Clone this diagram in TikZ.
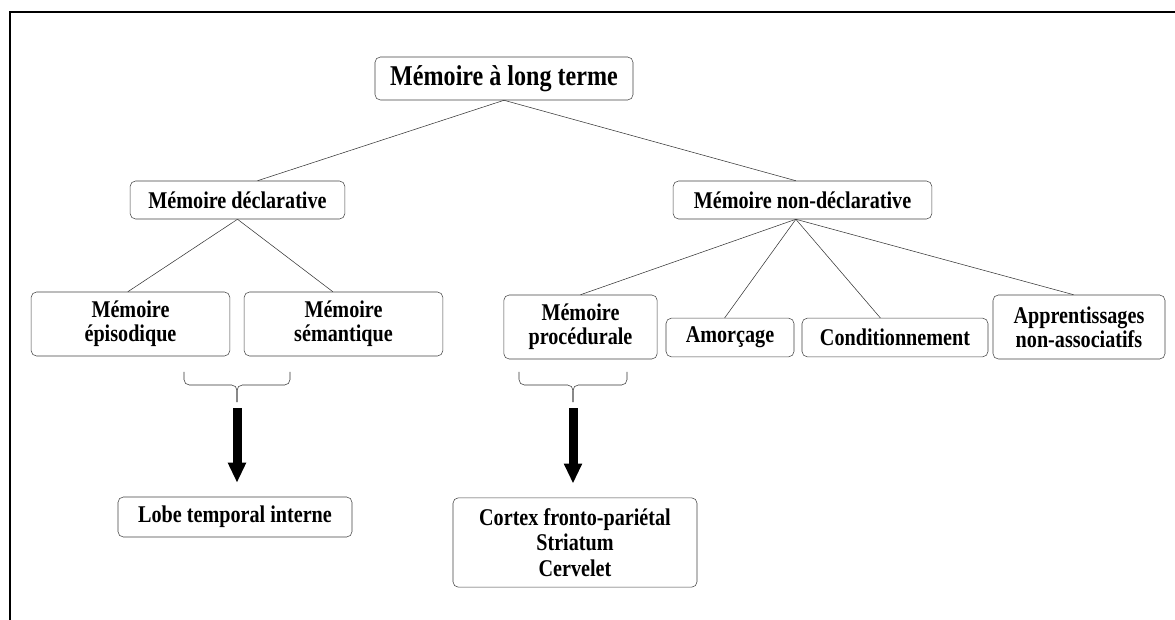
\documentclass[tikz,border=0pt]{standalone}
\usepackage{fontspec}
\setmainfont[FakeStretch=0.84]{Liberation Serif}
\usepackage{tikz}
\usetikzlibrary{arrows.meta}
\tikzset{mem_tree/.style={x=0.75pt,y=-0.75pt,font=\bfseries\fontsize{18}{18}\selectfont}}
\tikzset{mem_box/.style={draw=black!75, rounded corners=4pt, thin, align=center, inner sep=1pt}}
\tikzset{mem_link/.style={draw=black!80, thin}}
\tikzset{mem_brace/.style={draw=black!80, thin, rounded corners=4pt}}
\tikzset{mem_arrow/.style={-{Triangle[length=15pt,width=12.75pt]}, line width=6.75pt, shorten >=10.5pt}}

\begin{document}
\begin{tikzpicture}[mem_tree]
    \useasboundingbox (0,0) rectangle (1175,620);
    % frame (top and left only)
    \draw[line width=1.8pt] (10,620) -- (10,12) -- (1175,12);

    \node[mem_box, minimum width=193.5pt, minimum height=32.25pt, font=\bfseries\fontsize{21.5}{18}\selectfont] (lt) at (504,78.5) {Mémoire à long terme};
    \node[mem_box, minimum width=161pt, minimum height=28.5pt] (decl) at (237.5,200) {Mémoire déclarative};
    \node[mem_box, minimum width=194pt, minimum height=28.5pt] (nondecl) at (802.5,200) {Mémoire non-déclarative};

    \node[mem_box, minimum width=149pt, minimum height=48pt] (epi) at (130.5,324) {Mémoire\\épisodique};
    \node[mem_box, minimum width=149pt, minimum height=48pt] (sem) at (343.5,324) {Mémoire\\sémantique};
    \node[mem_box, minimum width=115pt, minimum height=48pt] (proc) at (580.5,327) {Mémoire\\procédurale};
    \node[mem_box, minimum width=96pt, minimum height=29pt] (amor) at (730,337.5) {Amorçage};
    \node[mem_box, minimum width=139.5pt, minimum height=29pt] (cond) at (895,337.5) {Conditionnement};
    \node[mem_box, minimum width=129pt, minimum height=48pt] (appr) at (1079,327) {Apprentissages\\non-associatifs};

    \node[mem_box, minimum width=175.5pt, minimum height=30pt] (lobe) at (235,517) {Lobe temporal interne};
    \node[mem_box, minimum width=183pt, minimum height=67pt, font=\bfseries\fontsize{18}{19}\selectfont] (cortex) at (575,542.5) {Cortex fronto-pariétal\\Striatum\\Cervelet};

    \path[mem_link]
        (lt.south) edge ([xshift=15pt]decl.north)
        (lt.south) edge ([xshift=-5pt]nondecl.north)
        (decl.south) edge ([xshift=-2pt]epi.north)
        (decl.south) edge ([xshift=-8pt]sem.north)
        ([xshift=-5pt]nondecl.south) edge (proc.north)
        ([xshift=-5pt]nondecl.south) edge ([xshift=-4pt]amor.north)
        ([xshift=-5pt]nondecl.south) edge ([xshift=-11pt]cond.north)
        ([xshift=-5pt]nondecl.south) edge ([xshift=-4pt]appr.north)
    ;

    % braces and arrows
    \coordinate (brace1_l) at (184,372);
    \coordinate (brace1_r) at (290,372);
    \coordinate (brace1_mid) at (237,385);
    \coordinate (brace1_tip) at (237,402);
    \coordinate (brace2_l) at (519,372);
    \coordinate (brace2_r) at (627,372);
    \coordinate (brace2_mid) at (573,385);
    \coordinate (brace2_tip) at (573,402);
    \draw[mem_brace] (brace1_l) |- (brace1_mid) -- (brace1_tip);
    \draw[mem_brace] (brace1_r) |- (brace1_mid) -- (brace1_tip);
    \draw[mem_brace] (brace2_l) |- (brace2_mid) -- (brace2_tip);
    \draw[mem_brace] (brace2_r) |- (brace2_mid) -- (brace2_tip);
    \draw[mem_arrow] ([yshift=-4.5pt]brace1_tip) -- (brace1_tip |- lobe.north);
    \draw[mem_arrow] ([yshift=-4.5pt]brace2_tip) -- (brace2_tip |- cortex.north);
\end{tikzpicture}
\end{document}
